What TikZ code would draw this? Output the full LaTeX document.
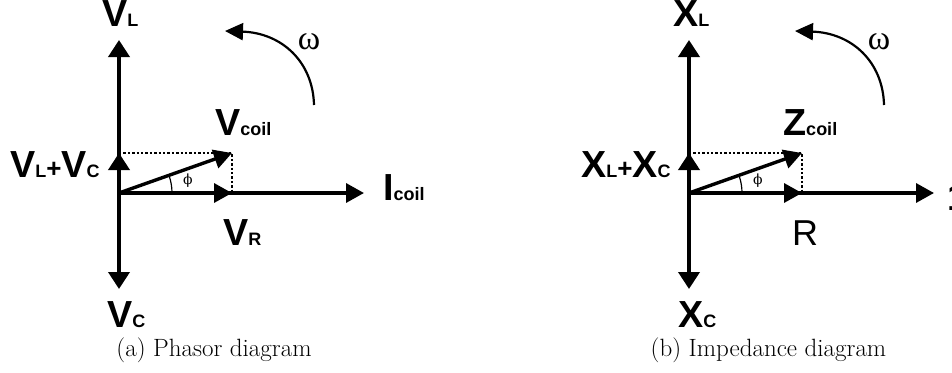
\documentclass[tikz,border=0pt]{standalone}
\usepackage{fontspec}
\newfontfamily\arialfont{Liberation Sans}
\newfontfamily\timesfont{Liberation Serif}
\newfontfamily\dvfont{DejaVu Serif}
\usetikzlibrary{arrows.meta}
\newcommand\biglab[2]{{\arialfont\bfseries\fontsize{37.7}{40}\selectfont #1{\fontsize{18}{18}\selectfont #2}}}
\newcommand\sumlab[4]{{\arialfont\bfseries\fontsize{37.7}{40}\selectfont #1{\fontsize{18}{18}\selectfont #2}{\fontsize{26}{26}\selectfont +}#3{\fontsize{18}{18}\selectfont #4}}}
\begin{document}
\begin{tikzpicture}[x=1pt,y=-1pt,
  axis/.style={line width=3.8pt, -{Triangle[length=17pt,width=21pt]}},
  vec/.style={line width=3.4pt, -{Triangle[length=18pt,width=19pt]}},
  dots/.style={line width=2.6pt, dash pattern=on 2.4pt off 2pt},
  rot/.style={line width=2.2pt, -{Triangle[length=18pt,width=17pt]}},
  ang/.style={line width=1.2pt},
  lbl/.style={inner sep=0pt, anchor=base west},
  captxt/.style={inner sep=0pt, anchor=base, font=\fontsize{25}{30}\selectfont},
  omg/.style={inner sep=0pt, font=\timesfont\fontsize{34}{36}\selectfont},
  ph/.style={inner sep=0pt, font=\dvfont\fontsize{14}{16}\selectfont},
]
\useasboundingbox (0,0) rectangle (952,372);
% ---------- (a) phasor diagram ----------
\coordinate (aO) at (119,193);
\coordinate (aT) at (119,40);
\coordinate (aB) at (119,289);
\coordinate (aI) at (364,193);
\coordinate (aR) at (232,193);
\coordinate (aS) at (119,153);
\coordinate (aP) at (232,153);
\coordinate (aA) at (172,193);
\coordinate (aW1) at (314,105);
\coordinate (aW2) at (225,31);
\draw[dots] (aS) -- (aP) -- (aR);
\draw[axis] (aO) -- (aT);
\draw[axis] (aO) -- (aB);
\draw[vec] (aO) -- (aI);
\draw[vec] (aO) -- (aR);
\draw[axis] (aO) -- (aS);
\draw[vec] (aO) -- (aP);
\draw[ang] (aA) arc[start angle=0, end angle=-19.5, radius=53];
\draw[rot] (aW1) .. controls (313,62) and (282,33) .. (aW2);
\node[lbl] (aVL) at (102,27) {\biglab{V}{L}};
\node[lbl] (aVLC) at (10,177) {\sumlab{V}{L}{V}{C}};
\node[lbl] (aVcoil) at (215,135) {\biglab{V}{coil}};
\node[lbl] (aIcoil) at (383,200) {\biglab{I}{coil}};
\node[lbl] (aVR) at (223,245) {\biglab{V}{R}};
\node[lbl] (aVC) at (107,327) {\biglab{V}{C}};
\node[omg] (aw) at (309,42) {ω};
\node[ph] (aph) at (188,181) {ϕ};
\node[captxt] (acap) at (214,356) {(a) Phasor diagram};
% ---------- (b) impedance diagram ----------
\coordinate (bO) at (689,193);
\coordinate (bT) at (689,40);
\coordinate (bB) at (689,289);
\coordinate (bI) at (934,193);
\coordinate (bR) at (802,193);
\coordinate (bS) at (689,153);
\coordinate (bP) at (802,153);
\coordinate (bA) at (742,193);
\coordinate (bW1) at (884,105);
\coordinate (bW2) at (795,31);
\draw[dots] (bS) -- (bP) -- (bR);
\draw[axis] (bO) -- (bT);
\draw[axis] (bO) -- (bB);
\draw[vec] (bO) -- (bI);
\draw[vec] (bO) -- (bR);
\draw[axis] (bO) -- (bS);
\draw[vec] (bO) -- (bP);
\draw[ang] (bA) arc[start angle=0, end angle=-19.5, radius=53];
\draw[rot] (bW1) .. controls (883,62) and (852,33) .. (bW2);
\node[lbl] (bXL) at (673,27) {\biglab{X}{L}};
\node[lbl] (bXLC) at (581,177) {\sumlab{X}{L}{X}{C}};
\node[lbl] (bZcoil) at (783,135) {\biglab{Z}{coil}};
\node[lbl] (bRlab) at (792,245) {\arialfont\fontsize{36}{38}\selectfont R};
\node[lbl] (bXC) at (678,327) {\biglab{X}{C}};
\node[lbl] (bone) at (947,210) {\biglab{1}{}};
\node[omg] (bw) at (879,42) {ω};
\node[ph] (bph) at (758,181) {ϕ};
\node[captxt] (bcap) at (768.5,356) {(b) Impedance diagram};
\end{tikzpicture}
\end{document}
